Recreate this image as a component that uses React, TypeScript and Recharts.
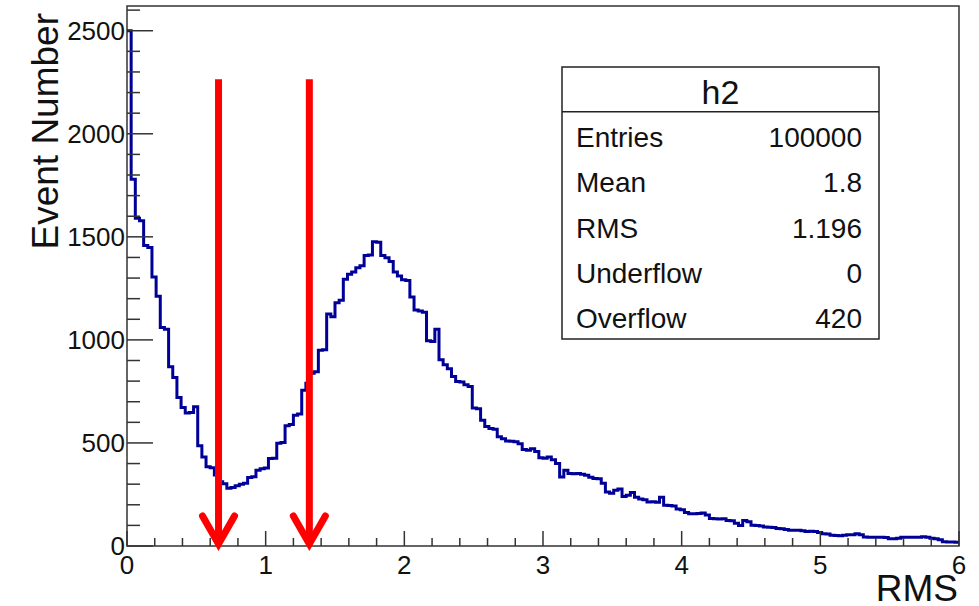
import { LineChart, Line, XAxis, YAxis, ReferenceArea, ReferenceLine } from "recharts";

// histogram h2: 200 bins over [0, 6]
const BIN_WIDTH = 0.03;
const BIN_COUNTS = [
  2500, 1780, 1590, 1578, 1458, 1448, 1305, 1212, 1060, 1052,
  870, 818, 720, 672, 645, 648, 676, 486, 432, 384,
  380, 345, 312, 302, 280, 284, 292, 300, 305, 332,
  336, 368, 375, 378, 424, 426, 498, 502, 584, 590,
  634, 640, 756, 790, 838, 846, 950, 952, 1126, 1112,
  1180, 1192, 1294, 1318, 1330, 1350, 1360, 1410, 1412, 1476,
  1474, 1410, 1398, 1380, 1330, 1310, 1292, 1288, 1208, 1145,
  1140, 1134, 996, 992, 1052, 904, 880, 860, 822, 798,
  796, 782, 774, 670, 666, 610, 580, 570, 566, 530,
  520, 510, 508, 506, 496, 468, 464, 472, 458, 428,
  426, 432, 418, 400, 335, 368, 352, 350, 352, 348,
  343, 334, 328, 326, 304, 262, 256, 270, 276, 240,
  246, 260, 236, 228, 225, 214, 215, 212, 236, 198,
  197, 194, 180, 176, 162, 157, 156, 158, 160, 150,
  133, 132, 131, 132, 124, 123, 110, 100, 124, 118,
  101, 100, 97, 92, 91, 90, 85, 84, 80, 77,
  76, 76, 74, 70, 72, 70, 65, 60, 58, 52,
  51, 50, 52, 55, 54, 60, 55, 44, 43, 43,
  42, 43, 41, 35, 35, 38, 43, 43, 42, 43,
  42, 45, 42, 38, 35, 30, 21, 20, 19, 18,
];

const X_TICKS = [
  0, 0.2, 0.4, 0.6, 0.8, 1, 1.2, 1.4, 1.6, 1.8, 2, 2.2, 2.4, 2.6, 2.8, 3,
  3.2, 3.4, 3.6, 3.8, 4, 4.2, 4.4, 4.6, 4.8, 5, 5.2, 5.4, 5.6, 5.8, 6,
];
const Y_TICKS = [
  0, 100, 200, 300, 400, 500, 600, 700, 800, 900, 1000, 1100, 1200, 1300,
  1400, 1500, 1600, 1700, 1800, 1900, 2000, 2100, 2200, 2300, 2400, 2500, 2600,
];
const Y_MAX = 2620;

const ARROW_X = [0.66, 1.315];
const ARROW_TOP = 2265;

const STAT_TITLE = "h2";
const STAT_LABELS = ["Entries", "Mean", "RMS", "Underflow", "Overflow"];
const STAT_VALUES = ["100000", "1.8", "1.196", "0", "420"];

const X_TITLE = "RMS";
const Y_TITLE = "Event Number";

const FONT = "'Liberation Sans', Arial, Helvetica, sans-serif";
const AXIS_COLOR = "#333";
const HIST_COLOR = "#000099";

// step points at bin lower edges, plus the right edge to close the last bin
const data = [
  ...BIN_COUNTS.map((count, i) => ({ x: +(i * BIN_WIDTH).toFixed(4), count })),
  { x: 6, count: BIN_COUNTS[BIN_COUNTS.length - 1] },
];

function XTick({ x, y, payload }: any) {
  const v = payload.value;
  const major = Math.abs(v - Math.round(v)) < 1e-6;
  return (
    <g>
      <line x1={x} x2={x} y1={y} y2={y - (major ? 15 : 8)} stroke={AXIS_COLOR} strokeWidth={1.5} />
      {major && (
        <text x={x} y={y + 28} textAnchor="middle" fontSize={26} fontFamily={FONT} fill="#111">
          {Math.round(v)}
        </text>
      )}
    </g>
  );
}

function YTick({ x, y, payload }: any) {
  const v = payload.value;
  const major = v % 500 === 0;
  return (
    <g>
      <line x1={x} x2={x + (major ? 26 : 13)} y1={y} y2={y} stroke={AXIS_COLOR} strokeWidth={1.5} />
      {major && (
        <text x={x - 2} y={y + 9} textAnchor="end" fontSize={26} fontFamily={FONT} fill="#111">
          {v}
        </text>
      )}
    </g>
  );
}

function Arrow(props: any) {
  const { x1, y1, x2, y2 } = props;
  return (
    <g>
      <line x1={x1} y1={y1} x2={x2} y2={y2 - 3} stroke="#ff0000" strokeWidth={7} />
      <path
        d={`M${x2 - 16},${y2 - 30} L${x2},${y2 - 2} L${x2 + 16},${y2 - 30}`}
        fill="none"
        stroke="#ff0000"
        strokeWidth={7}
        strokeLinecap="round"
      />
    </g>
  );
}

function StatsAndTitles() {
  const boxL = 562;
  const boxT = 67;
  const boxW = 317;
  const boxH = 272;
  const sepY = 111.7;
  const rowH = 45.3;
  return (
    <svg
      width={979}
      height={606}
      style={{ position: "absolute", left: 0, top: 0, pointerEvents: "none" }}
    >
      <rect x={boxL} y={boxT} width={boxW} height={boxH} fill="#fff" stroke="#222" strokeWidth={1.5} />
      <line x1={boxL} x2={boxL + boxW} y1={sepY} y2={sepY} stroke="#222" strokeWidth={1.5} />
      <text x={boxL + boxW / 2} y={104} textAnchor="middle" fontSize={34} fontFamily={FONT} fill="#111">
        {STAT_TITLE}
      </text>
      {STAT_LABELS.map((label, i) => (
        <g key={label}>
          <text x={576} y={147 + i * rowH} fontSize={28} fontFamily={FONT} fill="#111">
            {label}
          </text>
          <text x={862} y={147 + i * rowH} textAnchor="end" fontSize={28} fontFamily={FONT} fill="#111">
            {STAT_VALUES[i]}
          </text>
        </g>
      ))}
      <text x={958} y={601} textAnchor="end" fontSize={37} fontFamily={FONT} fill="#111">
        {X_TITLE}
      </text>
      <text
        x={0}
        y={0}
        transform="translate(58,13) rotate(-90)"
        textAnchor="end"
        fontSize={37}
        fontFamily={FONT}
        fill="#111"
      >
        {Y_TITLE}
      </text>
    </svg>
  );
}

export default function App() {
  return (
    <div style={{ position: "absolute", left: 0, top: 0, width: 979, height: 606, background: "#fff" }}>
      <LineChart width={979} height={606} data={data} margin={{ top: 6, right: 20, bottom: 0, left: 0 }}>
        <XAxis
          type="number"
          dataKey="x"
          domain={[0, 6]}
          ticks={X_TICKS}
          interval={0}
          tick={XTick}
          tickLine={false}
          axisLine={false}
          tickSize={0}
          tickMargin={0}
          height={60}
          allowDataOverflow
        />
        <YAxis
          type="number"
          domain={[0, Y_MAX]}
          ticks={Y_TICKS}
          interval={0}
          tick={YTick}
          tickLine={false}
          axisLine={false}
          tickSize={0}
          tickMargin={0}
          width={127}
          allowDataOverflow
        />
        <Line
          type="stepAfter"
          dataKey="count"
          stroke={HIST_COLOR}
          strokeWidth={3}
          dot={false}
          isAnimationActive={false}
        />
        {ARROW_X.map((ax) => (
          <ReferenceLine
            key={ax}
            segment={[
              { x: ax, y: ARROW_TOP },
              { x: ax, y: 0 },
            ]}
            shape={Arrow}
          />
        ))}
        <ReferenceArea x1={0} x2={6} y1={0} y2={Y_MAX} fill="none" stroke={AXIS_COLOR} strokeWidth={1.5} />
      </LineChart>
      <StatsAndTitles />
    </div>
  );
}
